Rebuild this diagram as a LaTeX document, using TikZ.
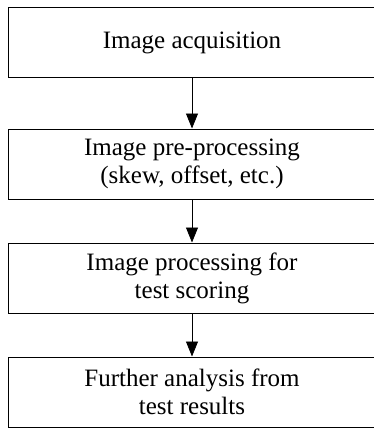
\documentclass[tikz,border=0pt]{standalone}
\usepackage{fontspec}
\setmainfont{Liberation Serif}
\usetikzlibrary{arrows.meta}
\begin{document}
\begin{tikzpicture}[x=1pt, y=1pt,
  stepbox/.style={rectangle, draw, line width=1pt, minimum width=368pt, minimum height=70pt, align=center, font=\fontsize{25}{28}\selectfont, inner sep=0pt},
  flow/.style={-{Triangle[length=15pt, width=12pt]}, line width=0.8pt}]
\useasboundingbox (0,0) rectangle (373,-428);
\node[stepbox] (acq) at (192,-42.5) {Image acquisition};
\node[stepbox] (pre) at (192,-164) {Image pre-processing\\(skew, offset, etc.)};
\node[stepbox] (proc) at (192,-278) {Image processing for\\test scoring};
\node[stepbox] (ana) at (192,-392) {Further analysis from\\test results};

\draw[flow] (acq) -- (pre);
\draw[flow] (pre) -- (proc);
\draw[flow] (proc) -- (ana);
\end{tikzpicture}
\end{document}
